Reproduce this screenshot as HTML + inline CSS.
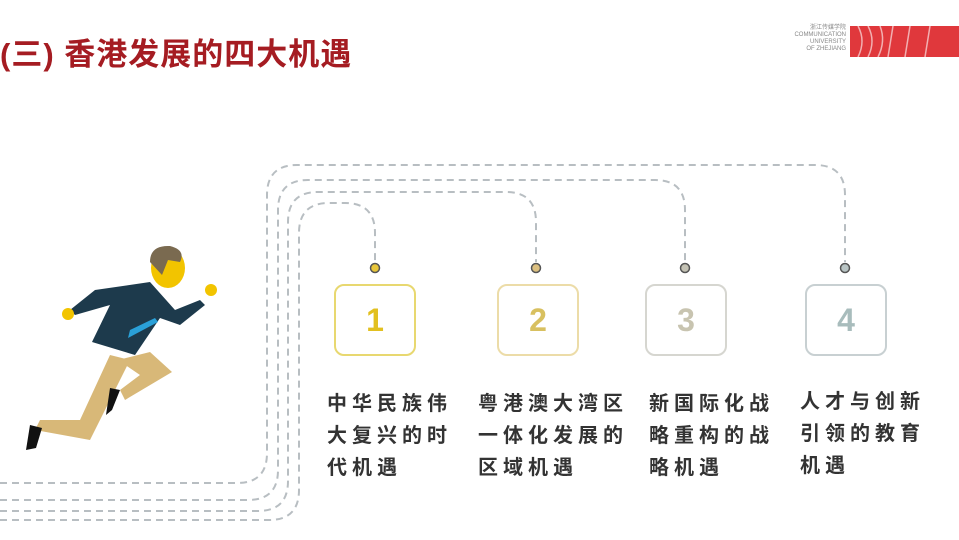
<!DOCTYPE html>
<html><head><meta charset="utf-8"><style>
body{margin:0;width:959px;height:540px;background:#fff;overflow:hidden;position:relative;font-family:"Liberation Sans","Noto Sans CJK SC",sans-serif}
.t{position:absolute;left:0px;top:29px;font-size:31px;font-weight:bold;color:#a51c22;letter-spacing:1px}
.lbl{position:absolute;font-size:20px;line-height:32px;letter-spacing:5px;color:#333;font-weight:bold}
.box{position:absolute;width:82px;height:72px;border:2px solid;border-radius:10px;box-sizing:border-box;display:flex;align-items:center;justify-content:center;font-size:32px;font-weight:bold}
</style></head><body>
<div class="t">(三) 香港发展的四大机遇</div>
<div style="position:absolute;left:788px;top:25px;font-size:6px;color:#888;line-height:7px;text-align:right;width:58px">浙江传媒学院<br>COMMUNICATION<br>UNIVERSITY<br>OF ZHEJIANG</div>
<div style="position:absolute;left:850px;top:26px;width:109px;height:31px;background:#e0383c"></div>
<svg width="959" height="540" style="position:absolute;left:0;top:0">
<g fill="none" stroke="#fff" stroke-width="1.5" opacity="0.6">
<path d="M858,26 Q866,41 858,57"/><path d="M868,26 Q876,41 868,57"/><path d="M880,26 Q886,41 878,57"/><path d="M893,26 L888,57"/><path d="M910,26 L905,57"/><path d="M930,26 L925,57"/>
</g>
<g fill="none" stroke="#b8bec2" stroke-width="2" stroke-dasharray="7,5">
<path d="M0,520 H269 Q299,520 299,490 V233 Q299,203 329,203 H345 Q375,203 375,233 V262"/>
<path d="M0,511 H258 Q288,511 288,481 V222 Q288,192 318,192 H506 Q536,192 536,222 V262"/>
<path d="M0,500 H248 Q278,500 278,470 V210 Q278,180 308,180 H655 Q685,180 685,210 V262"/>
<path d="M0,483 H237 Q267,483 267,453 V195 Q267,165 297,165 H815 Q845,165 845,195 V262"/>
</g>
<circle cx="375" cy="268" r="4.5" fill="#e8c63a" stroke="#555" stroke-width="1.5"/>
<circle cx="536" cy="268" r="4.5" fill="#dcc080" stroke="#555" stroke-width="1.5"/>
<circle cx="685" cy="268" r="4.5" fill="#c4c2b4" stroke="#555" stroke-width="1.5"/>
<circle cx="845" cy="268" r="4.5" fill="#b8c4c4" stroke="#555" stroke-width="1.5"/>
<polygon points="118,360 150,352 172,372 125,400 120,390 140,375" fill="#d8b878"/>
<polygon points="110,355 130,360 90,440 35,430 40,420 80,420" fill="#d8b878"/>
<polygon points="30,425 42,428 36,448 26,450" fill="#111"/>
<polygon points="110,388 120,390 112,410 106,415" fill="#111"/>
<polygon points="95,290 150,282 175,310 200,300 205,305 180,325 160,318 135,355 92,342 110,305 75,315 70,310" fill="#1d3a4c"/>
<polygon points="130,330 155,318 158,322 128,338" fill="#2aa0d8"/>
<ellipse cx="168" cy="268" rx="17" ry="20" fill="#f2c400"/>
<path d="M150,262 Q150,245 170,246 Q186,250 180,262 L168,260 L162,275 Z" fill="#7a6a50"/>
<circle cx="68" cy="314" r="6" fill="#f2c400"/>
<circle cx="211" cy="290" r="6" fill="#f2c400"/>
</svg>
<div class="box" style="left:334px;top:284px;border-color:#e8d870;color:#e2c020">1</div>
<div class="box" style="left:497px;top:284px;border-color:#ecdca8;color:#d8c060">2</div>
<div class="box" style="left:645px;top:284px;border-color:#d6d6d0;color:#c8c4b0">3</div>
<div class="box" style="left:805px;top:284px;border-color:#c8d0d2;color:#a8bcbc">4</div>
<div class="lbl" style="left:327px;top:388px">中华民族伟<br>大复兴的时<br>代机遇</div>
<div class="lbl" style="left:478px;top:388px">粤港澳大湾区<br>一体化发展的<br>区域机遇</div>
<div class="lbl" style="left:649px;top:388px">新国际化战<br>略重构的战<br>略机遇</div>
<div class="lbl" style="left:800px;top:386px">人才与创新<br>引领的教育<br>机遇</div>
</body></html>
